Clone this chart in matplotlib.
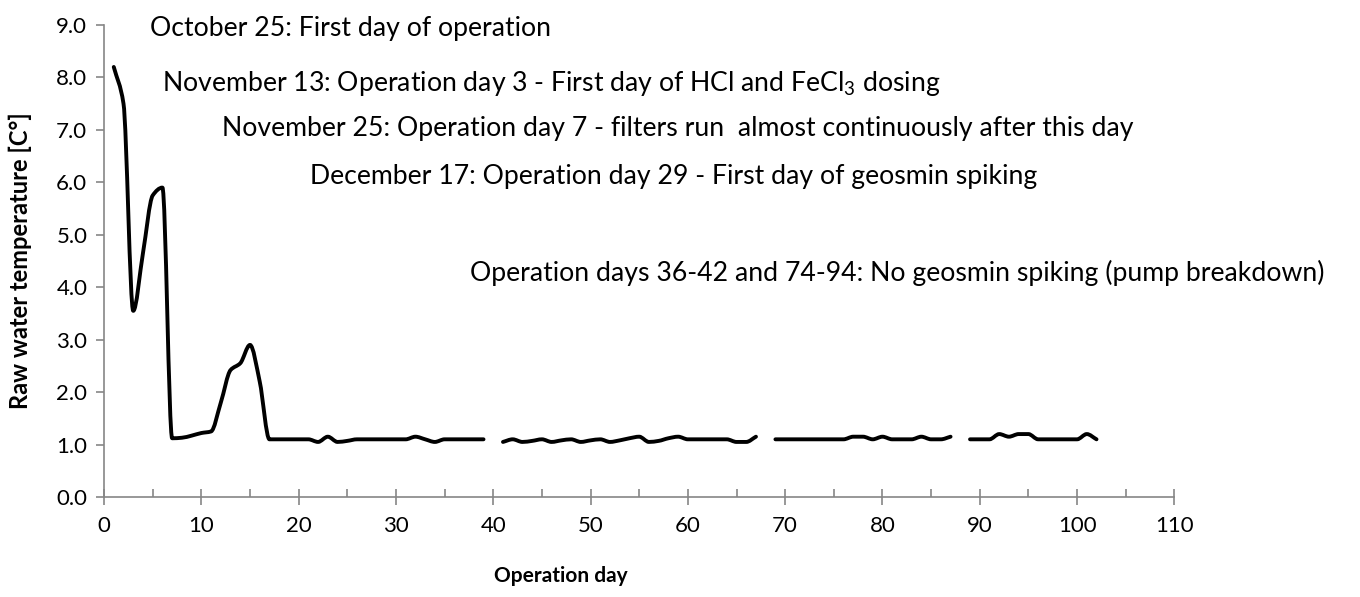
import numpy as np
import matplotlib
matplotlib.use("Agg")
import matplotlib.pyplot as plt
from matplotlib.path import Path
from matplotlib.patches import PathPatch

plt.rcParams['font.family'] = ['Lato', 'DejaVu Sans']
plt.rcParams['mathtext.fontset'] = 'custom'
plt.rcParams['mathtext.rm'] = 'Lato'
plt.rcParams['mathtext.it'] = 'Lato'

# daily raw water temperature, None = no reading
days = list(range(1, 103))
temps = [8.2, 7.5, 3.55, 4.65, 5.75, 5.9, 1.12, 1.13, 1.17, 1.22,
         1.25, 1.8, 2.42, 2.55, 2.9, 2.2, 1.1, 1.1, 1.1, 1.1,
         1.1, 1.05, 1.15, 1.05, 1.07, 1.1, 1.1, 1.1, 1.1, 1.1,
         1.1, 1.15, 1.1, 1.05, 1.1, 1.1, 1.1, 1.1, 1.1, None,
         1.05, 1.1, 1.05, 1.07, 1.1, 1.05, 1.08, 1.1, 1.05, 1.08,
         1.1, 1.05, 1.08, 1.12, 1.15, 1.05, 1.07, 1.12, 1.15, 1.1,
         1.1, 1.1, 1.1, 1.1, 1.05, 1.05, 1.15, None, 1.1, 1.1,
         1.1, 1.1, 1.1, 1.1, 1.1, 1.1, 1.15, 1.15, 1.1, 1.15,
         1.1, 1.1, 1.1, 1.15, 1.1, 1.1, 1.15, None, 1.1, 1.1,
         1.1, 1.2, 1.15, 1.2, 1.2, 1.1, 1.1, 1.1, 1.1, 1.1,
         1.2, 1.1]

notes = [
    (4.7, 8.93, "October 25: First day of operation"),
    (6.0, 7.88, "November 13: Operation day 3 - First day of HCl and FeCl$_3$ dosing"),
    (12.1, 7.02, "November 25: Operation day 7 - filters run  almost continuously after this day"),
    (21.2, 6.12, "December 17: Operation day 29 - First day of geosmin spiking"),
    (37.6, 4.27, "Operation days 36-42 and 74-94: No geosmin spiking (pump breakdown)"),
]


def smooth_path(x, y):
    # smoothed line as bezier pieces, monotone tangents so it does not overshoot
    n = len(x)
    d = [(y[i + 1] - y[i]) / (x[i + 1] - x[i]) for i in range(n - 1)]
    m = [d[0]] + [0.0] * (n - 2) + [d[-1]]
    for i in range(1, n - 1):
        if d[i - 1] * d[i] > 0:
            m[i] = 2 / (1 / d[i - 1] + 1 / d[i])
    verts = [(x[0], y[0])]
    codes = [Path.MOVETO]
    for i in range(n - 1):
        h = x[i + 1] - x[i]
        verts += [(x[i] + h / 3, y[i] + m[i] * h / 3),
                  (x[i + 1] - h / 3, y[i + 1] - m[i + 1] * h / 3),
                  (x[i + 1], y[i + 1])]
        codes += [Path.CURVE4] * 3
    return Path(verts, codes)


fig = plt.figure(figsize=(13.6, 5.97), dpi=100)
ax = fig.add_axes([0.0765, 0.1675, 0.787, 0.7906])

# split into runs at the missing days
seg_x, seg_y = [], []
for day, t in zip(days + [None], temps + [None]):
    if t is None:
        if seg_x:
            ax.add_patch(PathPatch(smooth_path(seg_x, seg_y), fill=False,
                                   edgecolor='black', lw=2.8,
                                   capstyle='round', joinstyle='round'))
        seg_x, seg_y = [], []
    else:
        seg_x.append(day)
        seg_y.append(t)

for x, y, s in notes:
    ax.text(x, y, s, fontsize=19.2, va='center', ha='left')

ax.set_xlim(0, 110)
ax.set_ylim(0, 9)
ax.set_xticks(np.arange(0, 111, 10))
ax.set_xticks(np.arange(5, 110, 10), minor=True)
ax.set_yticks(np.arange(0, 9.1, 1))
ax.set_yticklabels([f"{v:.1f}" for v in np.arange(0, 9.1, 1)])

grey = '#868686'
for side in ['top', 'right']:
    ax.spines[side].set_visible(False)
for side in ['left', 'bottom']:
    ax.spines[side].set_color(grey)
    ax.spines[side].set_linewidth(1.2)
ax.tick_params(axis='x', which='major', direction='inout', length=12,
               color=grey, width=1.2, labelsize=16, pad=8)
ax.tick_params(axis='x', which='minor', direction='in', length=6,
               color=grey, width=1.2)
ax.tick_params(axis='y', which='major', direction='out', length=6,
               color=grey, width=1.2, labelsize=16, pad=6)

ax.set_xlabel("Operation day", fontsize=15, fontweight='bold', va='center')
ax.xaxis.set_label_coords(0.427, -0.167)
ax.set_ylabel("Raw water temperature [C°]", fontsize=17, fontweight='bold',
              va='center')
ax.yaxis.set_label_coords(-0.078, 0.5)

fig.savefig("out.png", dpi=100)
